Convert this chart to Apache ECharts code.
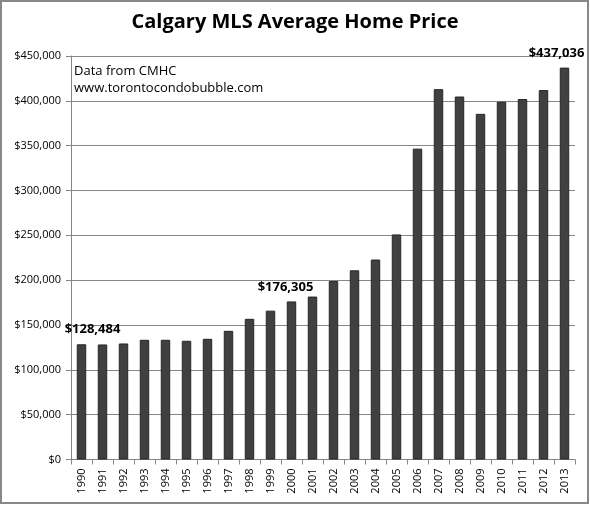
<!DOCTYPE html>
<html>
<head>
<meta charset="utf-8">
<script src="https://cdn.jsdelivr.net/npm/echarts@6/dist/echarts.min.js"></script>
<style>
html,body{margin:0;padding:0;background:#fff;}
#c{width:590px;height:505px;}
</style>
</head>
<body>
<div id="c"></div>
<script>
const years = ['1990','1991','1992','1993','1994','1995','1996','1997','1998','1999','2000','2001','2002','2003','2004','2005','2006','2007','2008','2009','2010','2011','2012','2013'];
const prices = [128484,128300,129400,133500,133500,132400,134600,143500,156900,166000,176305,181700,199000,211000,223000,251000,346700,413000,404800,385500,399000,402000,412000,437036];
const labeledYears = ['1990','2000','2013'];
const yTicks = [0,50000,100000,150000,200000,250000,300000,350000,400000,450000];
const titleText = 'Calgary MLS Average Home Price';
const noteLines = ['Data from CMHC','www.torontocondobubble.com'];

const labelOffsets = {'1990':[11,0],'2000':[-6,0],'2013':[-8,0]};
const fmt = v => '$' + Number(v).toLocaleString('en-US');

const seriesData = prices.map((v,i) => {
  const y = years[i];
  if (labeledYears.indexOf(y) >= 0) {
    return {value: v, label: {show: true, position: 'top', distance: 8, offset: labelOffsets[y],
      formatter: p => fmt(p.value), fontFamily: 'Open Sans', fontWeight: 'bold', fontSize: 13, color: '#000'}};
  }
  return v;
});

const chart = echarts.init(document.getElementById('c'));
chart.setOption({
  animation: false,
  backgroundColor: '#fff',
  title: {text: titleText, left: 'center', top: 7,
    textStyle: {fontFamily: 'Open Sans', fontWeight: 'bold', fontSize: 20, color: '#000'}},
  grid: {left: 71, right: 15, top: 56, bottom: 45.5},
  xAxis: {type: 'category', data: years,
    axisLine: {lineStyle: {color: '#868686'}},
    axisTick: {show: true, alignWithLabel: false, length: 5, lineStyle: {color: '#868686'}},
    axisLabel: {rotate: 90, fontFamily: 'Open Sans', fontSize: 11, color: '#000', margin: 9}},
  yAxis: {type: 'value', min: yTicks[0], max: yTicks[yTicks.length-1], interval: yTicks[1]-yTicks[0],
    axisLine: {show: true, lineStyle: {color: '#868686'}},
    axisTick: {show: true, length: 5, lineStyle: {color: '#868686'}},
    splitLine: {lineStyle: {color: '#868686', width: 1}},
    axisLabel: {formatter: fmt, fontFamily: 'Open Sans', fontSize: 11, color: '#000', margin: 10}},
  series: [{type: 'bar', data: seriesData, barWidth: '45%',
    itemStyle: {color: '#404040', borderColor: '#262626', borderWidth: 1}}],
  graphic: [
    {type: 'rect', z: -10, shape: {x: 1, y: 1, width: 587, height: 502},
      style: {fill: 'none', stroke: '#888', lineWidth: 2}},
    {type: 'text', left: 74, top: 63, z: 10,
      style: {text: noteLines.join('\n'), font: '13px "Open Sans"', lineHeight: 17, fill: '#000'}}
  ]
});
</script>
</body>
</html>
